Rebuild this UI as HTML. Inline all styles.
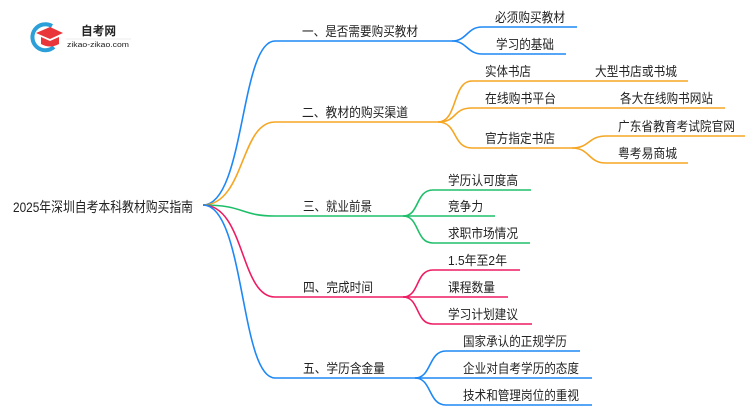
<!DOCTYPE html>
<html><head><meta charset="utf-8"><style>
html,body{margin:0;padding:0;background:#fff;}
svg{display:block;}
text{font-family:"Liberation Sans","Noto Sans CJK SC",sans-serif;fill:#222;}
</style></head><body>
<svg width="750" height="410" viewBox="0 0 750 410" xmlns="http://www.w3.org/2000/svg">
<!-- logo -->
<path d="M52 26 A13 13 0 1 0 54 47" fill="none" stroke="#2a9fd8" stroke-width="4"/>
<path d="M36 33 L50 27 L63 33 L50 39 Z" fill="#e8363a"/>
<path d="M41 37 L41 44 Q50 49 59 44 L59 37 L50 41 Z" fill="#e8363a"/>
<text x="81" y="35" font-size="12" font-weight="bold" fill="#333" textLength="35" lengthAdjust="spacingAndGlyphs">自考网</text>
<line x1="66" y1="39" x2="131" y2="39" stroke="#ddd" stroke-width="0.6"/>
<text x="67" y="47" font-size="7" fill="#666" textLength="62" lengthAdjust="spacingAndGlyphs">zikao-zikao.com</text>

<text x="13" y="212" font-size="14" textLength="180" lengthAdjust="spacingAndGlyphs">2025年深圳自考本科教材购买指南</text>

<g fill="none" stroke-width="1.6">
<g stroke="#1e88f5">
<path d="M203 205 C245 205 240 41 275 41 L452 41"/>
<path d="M452 41 C467 41 467 27 482 27 L577 27"/>
<path d="M452 41 C467 41 467 54 482 54 L566 54"/>
</g>
<g stroke="#f5a623">
<path d="M203 205 C245 205 240 122 275 122 L438 122"/>
<path d="M438 122 C458 122 452 81 472 81 L688 81"/>
<path d="M438 122 C458 122 452 108 472 108 L725 108"/>
<path d="M438 122 C458 122 452 148 472 148 L572 148"/>
<path d="M572 148 C590 148 588 136 606 136 L745 136"/>
<path d="M572 148 C590 148 588 163 606 163 L688 163"/>
</g>
<g stroke="#1fbf6a">
<path d="M203 205 C245 205 240 216 275 216 L403 216"/>
<path d="M403 216 C420 216 415 190 433 190 L531 190"/>
<path d="M403 216 L495 216"/>
<path d="M403 216 C420 216 415 243 433 243 L530 243"/>
</g>
<g stroke="#ee1c64">
<path d="M203 205 C245 205 240 297 275 297 L403 297"/>
<path d="M403 297 C420 297 415 270 433 270 L520 270"/>
<path d="M403 297 L508 297"/>
<path d="M403 297 C420 297 415 324 433 324 L532 324"/>
</g>
<g stroke="#1e88f5">
<path d="M203 205 C245 205 240 378 275 378 L415 378"/>
<path d="M415 378 C432 378 428 351 446 351 L580 351"/>
<path d="M415 378 L592 378"/>
<path d="M415 378 C432 378 428 405 446 405 L592 405"/>
</g>
</g>

<g font-size="13" lengthAdjust="spacingAndGlyphs">
<text x="302" y="36" textLength="116" lengthAdjust="spacingAndGlyphs">一、是否需要购买教材</text>
<text x="495" y="22" textLength="70" lengthAdjust="spacingAndGlyphs">必须购买教材</text>
<text x="496" y="49" textLength="58" lengthAdjust="spacingAndGlyphs">学习的基础</text>

<text x="302" y="117" textLength="106" lengthAdjust="spacingAndGlyphs">二、教材的购买渠道</text>
<text x="485" y="76" textLength="46" lengthAdjust="spacingAndGlyphs">实体书店</text>
<text x="595" y="76" textLength="82" lengthAdjust="spacingAndGlyphs">大型书店或书城</text>
<text x="485" y="103" textLength="71" lengthAdjust="spacingAndGlyphs">在线购书平台</text>
<text x="620" y="103" textLength="93" lengthAdjust="spacingAndGlyphs">各大在线购书网站</text>
<text x="485" y="143" textLength="70" lengthAdjust="spacingAndGlyphs">官方指定书店</text>
<text x="618" y="131" textLength="117" lengthAdjust="spacingAndGlyphs">广东省教育考试院官网</text>
<text x="618" y="158" textLength="59" lengthAdjust="spacingAndGlyphs">粤考易商城</text>

<text x="303" y="211" textLength="69" lengthAdjust="spacingAndGlyphs">三、就业前景</text>
<text x="448" y="185" textLength="70" lengthAdjust="spacingAndGlyphs">学历认可度高</text>
<text x="448" y="211" textLength="35" lengthAdjust="spacingAndGlyphs">竞争力</text>
<text x="448" y="238" textLength="70" lengthAdjust="spacingAndGlyphs">求职市场情况</text>

<text x="303" y="292" textLength="70" lengthAdjust="spacingAndGlyphs">四、完成时间</text>
<text x="448" y="265" textLength="59" lengthAdjust="spacingAndGlyphs">1.5年至2年</text>
<text x="448" y="292" textLength="47" lengthAdjust="spacingAndGlyphs">课程数量</text>
<text x="448" y="319" textLength="70" lengthAdjust="spacingAndGlyphs">学习计划建议</text>

<text x="303" y="373" textLength="82" lengthAdjust="spacingAndGlyphs">五、学历含金量</text>
<text x="463" y="346" textLength="104" lengthAdjust="spacingAndGlyphs">国家承认的正规学历</text>
<text x="463" y="373" textLength="116" lengthAdjust="spacingAndGlyphs">企业对自考学历的态度</text>
<text x="463" y="400" textLength="116" lengthAdjust="spacingAndGlyphs">技术和管理岗位的重视</text>
</g>
</svg>
</body></html>
